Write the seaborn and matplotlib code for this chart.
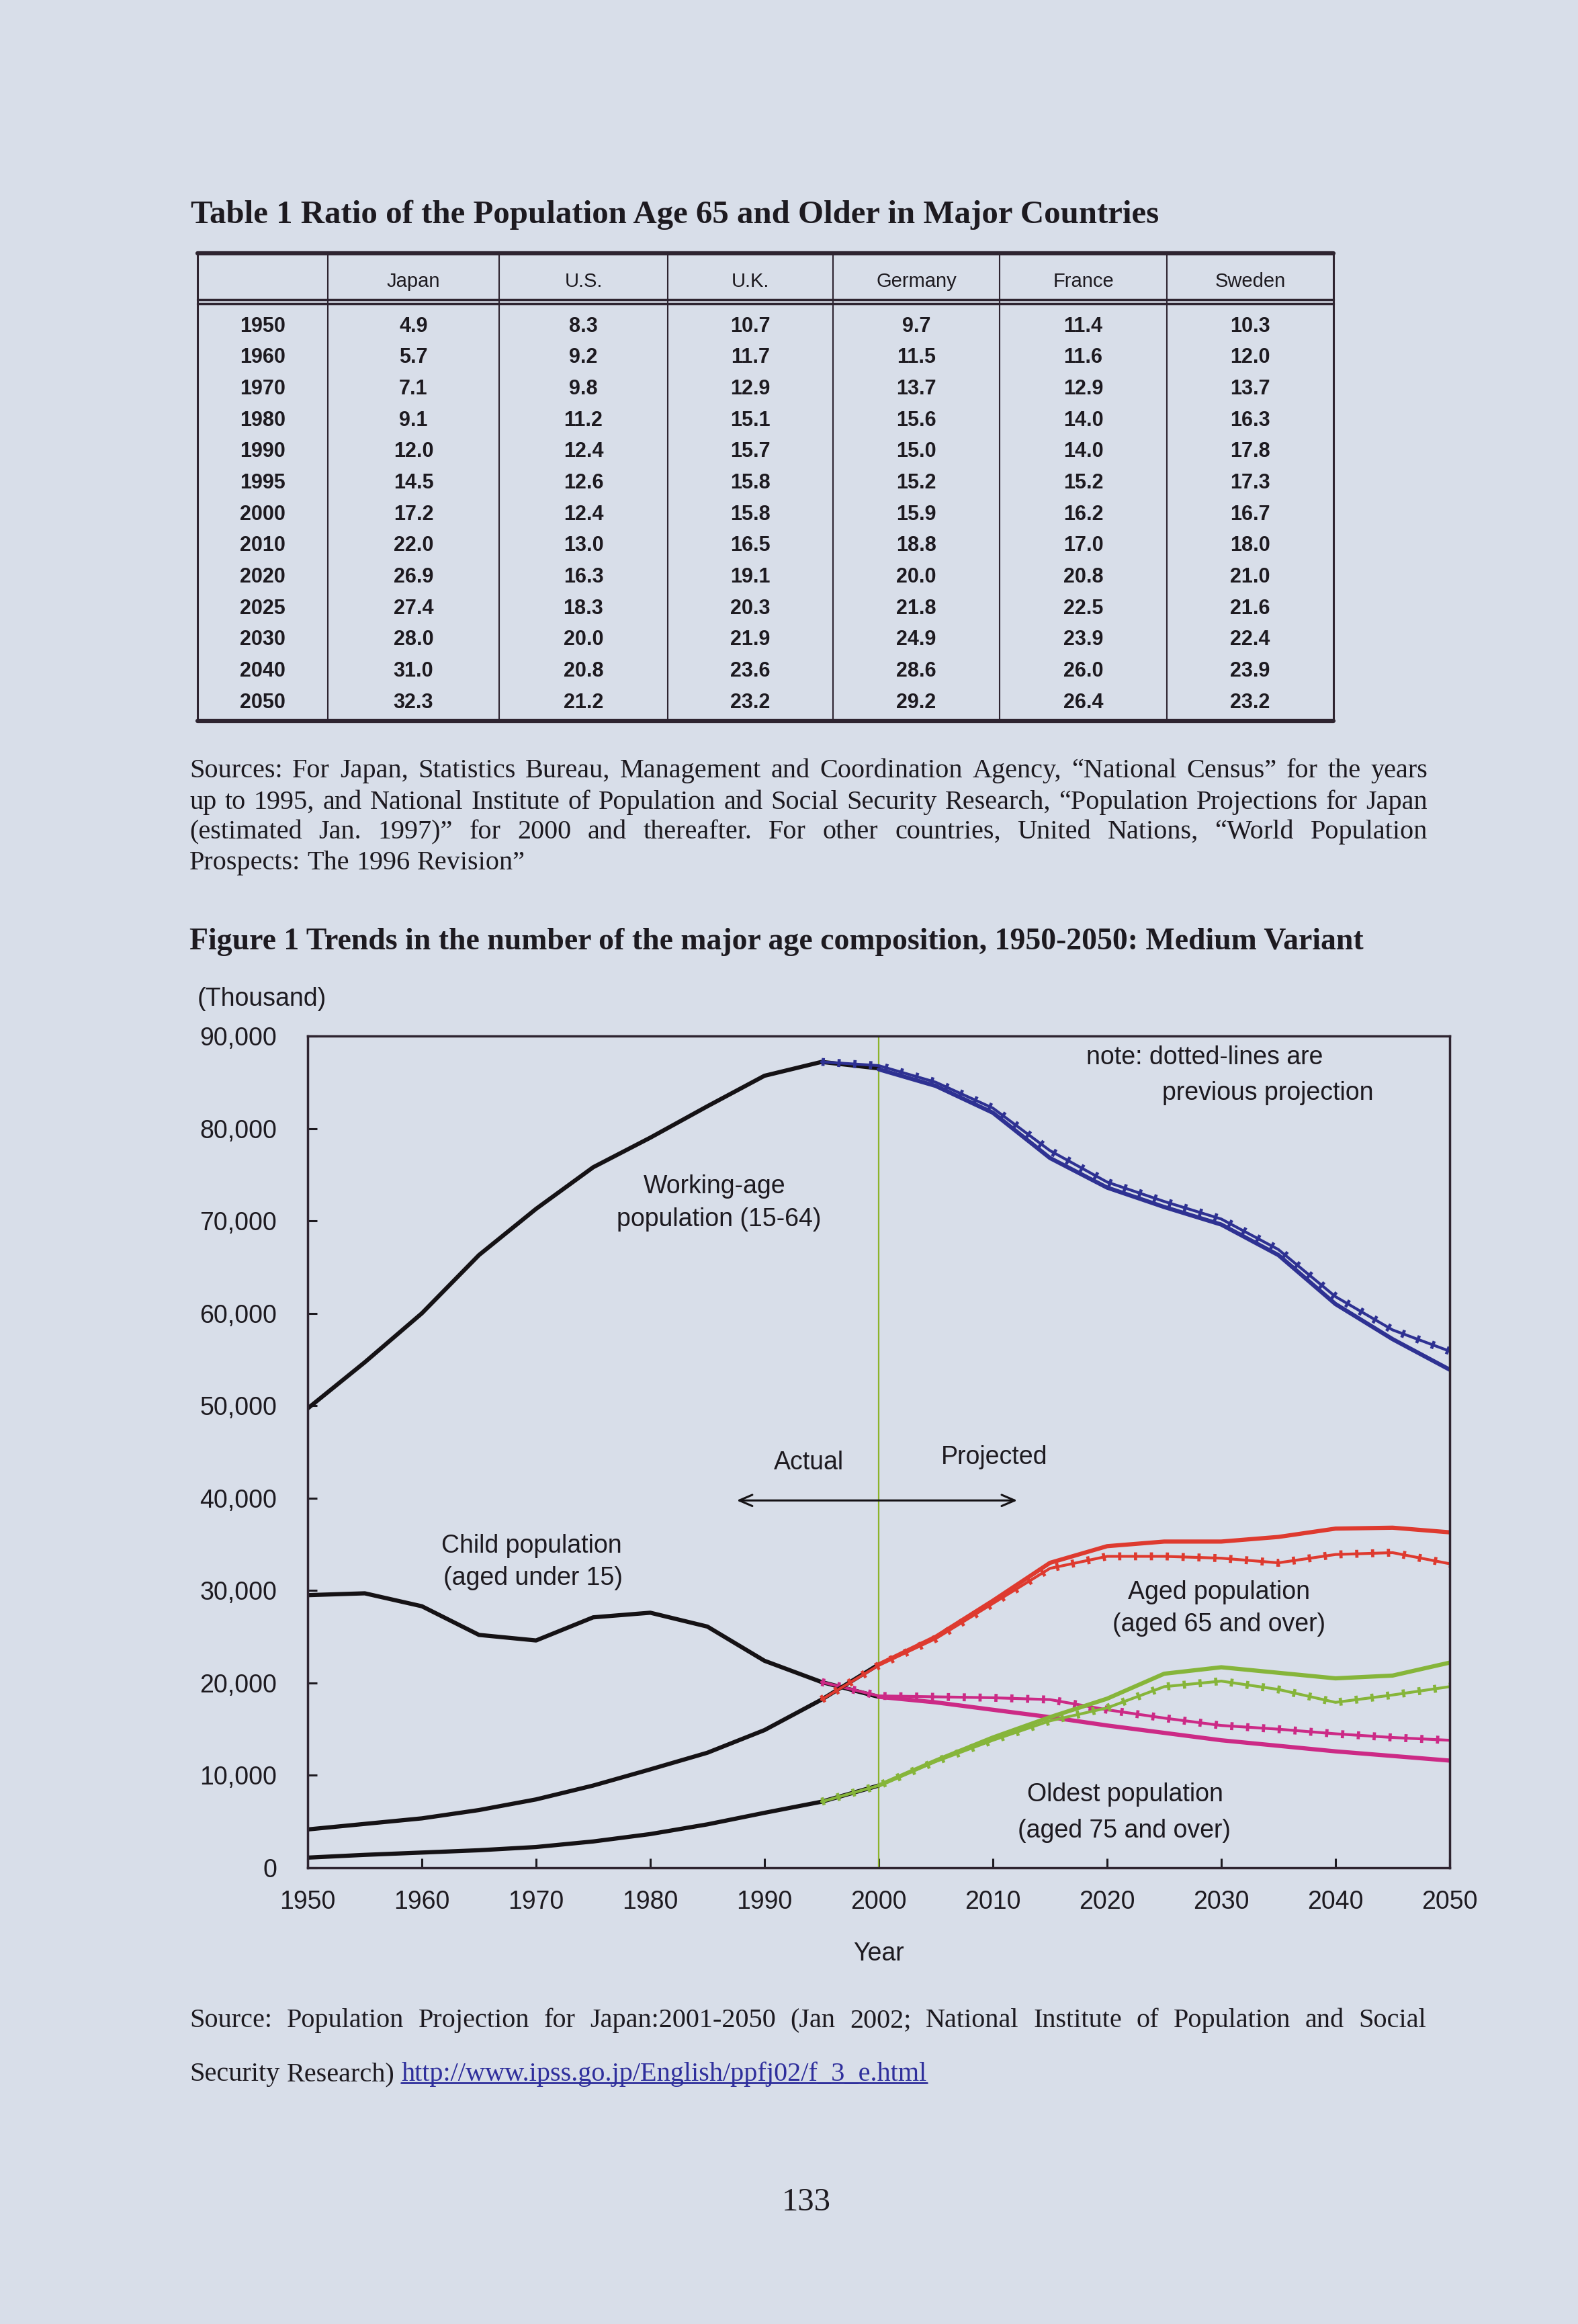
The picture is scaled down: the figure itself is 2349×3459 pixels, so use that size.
import matplotlib
matplotlib.use('Agg')
import matplotlib.pyplot as plt
from matplotlib.lines import Line2D
import seaborn as sns

# --- Table 1 : ratio of population aged 65+ (%) ---
table_cols = ['Japan', 'U.S.', 'U.K.', 'Germany', 'France', 'Sweden']
table_years = ['1950', '1960', '1970', '1980', '1990', '1995', '2000',
               '2010', '2020', '2025', '2030', '2040', '2050']
japan = [4.9, 5.7, 7.1, 9.1, 12.0, 14.5, 17.2, 22.0, 26.9, 27.4, 28.0, 31.0, 32.3]
us = [8.3, 9.2, 9.8, 11.2, 12.4, 12.6, 12.4, 13.0, 16.3, 18.3, 20.0, 20.8, 21.2]
uk = [10.7, 11.7, 12.9, 15.1, 15.7, 15.8, 15.8, 16.5, 19.1, 20.3, 21.9, 23.6, 23.2]
germany = [9.7, 11.5, 13.7, 15.6, 15.0, 15.2, 15.9, 18.8, 20.0, 21.8, 24.9, 28.6, 29.2]
france = [11.4, 11.6, 12.9, 14.0, 14.0, 15.2, 16.2, 17.0, 20.8, 22.5, 23.9, 26.0, 26.4]
sweden = [10.3, 12.0, 13.7, 16.3, 17.8, 17.3, 16.7, 18.0, 21.0, 21.6, 22.4, 23.9, 23.2]

# --- Figure 1 : population by age group (thousand) ---
years_actual = [1950, 1955, 1960, 1965, 1970, 1975, 1980, 1985, 1990, 1995, 2000]
work_actual = [49700, 54700, 60000, 66300, 71300, 75800, 79000, 82400, 85700, 87200, 86500]
child_actual = [29500, 29700, 28300, 25200, 24600, 27100, 27600, 26100, 22400, 20100, 18500]
aged_actual = [4150, 4750, 5350, 6250, 7400, 8900, 10650, 12450, 14900, 18200, 22000]
oldest_actual = [1100, 1400, 1650, 1900, 2250, 2850, 3650, 4700, 5950, 7150, 8900]

years_new = [2000, 2005, 2010, 2015, 2020, 2025, 2030, 2035, 2040, 2045, 2050]
work_new = [86400, 84600, 81700, 76800, 73600, 71500, 69600, 66300, 61000, 57200, 53900]
child_new = [18500, 17900, 17100, 16300, 15400, 14600, 13800, 13200, 12600, 12100, 11600]
aged_new = [22000, 25000, 28900, 33000, 34800, 35300, 35300, 35800, 36700, 36800, 36300]
oldest_new = [8900, 11600, 14100, 16300, 18300, 21000, 21700, 21100, 20500, 20800, 22200]

years_prev = [1995, 2000, 2005, 2010, 2015, 2020, 2025, 2030, 2035, 2040, 2045, 2050]
work_prev = [87200, 86800, 85000, 82200, 77600, 74200, 72100, 70200, 66900, 61800, 58200, 55900]
child_prev = [20100, 18600, 18500, 18400, 18200, 17100, 16200, 15400, 15000, 14500, 14100, 13800]
aged_prev = [18200, 21900, 24800, 28600, 32400, 33700, 33700, 33500, 33000, 33900, 34100, 32900]
oldest_prev = [7150, 8900, 11500, 13800, 15900, 17300, 19600, 20200, 19300, 17900, 18700, 19600]

W, H = 2349, 3459
BG = '#d8dee9'
TXT = '#1d1a20'
LINE = '#2e2430'
C_BLACK = '#151215'
C_BLUE = '#2e3192'
C_RED = '#de3a2f'
C_MAG = '#cc2a86'
C_GREEN = '#86b53a'
SERIF = ['Liberation Serif', 'DejaVu Serif']
SANS = ['Liberation Sans', 'DejaVu Sans']

sns.set_style('ticks')
plt.rcParams['font.family'] = SANS

fig = plt.figure(figsize=(W / 100, H / 100), dpi=100, facecolor=BG)
renderer = fig.canvas.get_renderer()


def fx(x):
    return x / W


def fy(y):
    return 1 - y / H


def text_w(s, size, family, weight='normal'):
    t = fig.text(0, 0, s, fontsize=size, family=family, weight=weight)
    w = t.get_window_extent(renderer).width
    t.remove()
    return w


def fit_size(s, width, family, weight='normal'):
    return 30 * width / text_w(s, 30, family, weight)


def hline(x0, x1, y, lw, color=LINE):
    fig.add_artist(Line2D([fx(x0), fx(x1)], [fy(y), fy(y)], transform=fig.transFigure,
                          color=color, lw=lw))


def vline(x, y0, y1, lw, color=LINE):
    fig.add_artist(Line2D([fx(x), fx(x)], [fy(y0), fy(y1)], transform=fig.transFigure,
                          color=color, lw=lw))


def justify(line, y, x0, x1, size, stretch=True, color=TXT):
    words = line.split(' ')
    ws = [text_w(w, size, SERIF) for w in words]
    if stretch and len(words) > 1:
        gap = (x1 - x0 - sum(ws)) / (len(words) - 1)
    else:
        gap = text_w('a b', size, SERIF) - text_w('ab', size, SERIF)
    x = x0
    for w, wd in zip(words, ws):
        fig.text(fx(x), fy(y), w, fontsize=size, family=SERIF, color=color,
                 ha='left', va='center_baseline')
        x += wd + gap
    return x - gap


#%% Table title and table
t1 = 'Table 1 Ratio of the Population Age 65 and Older in Major Countries'
fig.text(fx(284), fy(315), t1, fontsize=fit_size(t1, 1440, SERIF, 'bold'), family=SERIF,
         weight='bold', color=TXT, ha='left', va='center_baseline')

col_x = [294, 488, 743, 994, 1240, 1488, 1737, 1985]
tab_top, tab_head, tab_bot = 377, 449, 1073
hline(col_x[0], col_x[-1], tab_top, 4.5)
hline(col_x[0], col_x[-1], tab_head - 3, 2.5)
hline(col_x[0], col_x[-1], tab_head + 3, 2.5)
hline(col_x[0], col_x[-1], tab_bot, 4.5)
for i, x in enumerate(col_x):
    vline(x, tab_top, tab_bot, 2.2 if i in (0, len(col_x) - 1) else 1.5)

for j, name in enumerate(table_cols):
    cx = (col_x[j + 1] + col_x[j + 2]) / 2
    fig.text(fx(cx), fy(416), name, fontsize=21, family=SANS, color=TXT,
             ha='center', va='center_baseline')

columns = [japan, us, uk, germany, france, sweden]
for i, yr in enumerate(table_years):
    ry = 482 + i * 46.7
    fig.text(fx((col_x[0] + col_x[1]) / 2), fy(ry), yr, fontsize=22, family=SANS,
             weight='bold', color=TXT, ha='center', va='center_baseline')
    for j, col in enumerate(columns):
        cx = (col_x[j + 1] + col_x[j + 2]) / 2
        fig.text(fx(cx), fy(ry), f'{col[i]:.1f}', fontsize=22, family=SANS,
                 weight='bold', color=TXT, ha='center', va='center_baseline')

#%% Sources paragraph
src_lines = [
    'Sources: For Japan, Statistics Bureau, Management and Coordination Agency, \u201cNational Census\u201d for the years',
    'up to 1995, and National Institute of Population and Social Security Research, \u201cPopulation Projections for Japan',
    '(estimated Jan. 1997)\u201d for 2000 and thereafter. For other countries, United Nations, \u201cWorld Population',
    'Prospects: The 1996 Revision\u201d',
]
body_x0, body_x1 = 282, 2125
body_size = min(fit_size(s, (body_x1 - body_x0) * 0.985, SERIF) for s in src_lines[:3])
for k, (s, y) in enumerate(zip(src_lines, [1143, 1190, 1234, 1280])):
    justify(s, y, body_x0, body_x1, body_size, stretch=(k < 3))

t2 = 'Figure 1 Trends in the number of the major age composition, 1950-2050: Medium Variant'
fig.text(fx(282), fy(1397), t2, fontsize=fit_size(t2, 1746, SERIF, 'bold'), family=SERIF,
         weight='bold', color=TXT, ha='left', va='center_baseline')

fig.text(fx(294), fy(1487), '(Thousand)', fontsize=27, family=SANS, color=TXT,
         ha='left', va='center')

#%% Chart
ax = fig.add_axes([fx(458), fy(2780), (2158 - 458) / W, (2780 - 1542) / H])
ax.set_facecolor('none')

series = [
    (work_actual, work_new, work_prev, C_BLUE),
    (child_actual, child_new, child_prev, C_MAG),
    (aged_actual, aged_new, aged_prev, C_RED),
    (oldest_actual, oldest_new, oldest_prev, C_GREEN),
]
for act, new, prev, col in series:
    sns.lineplot(x=years_actual, y=act, ax=ax, color=C_BLACK, lw=4.5)
    sns.lineplot(x=years_prev, y=prev, ax=ax, color=col, lw=3)
    sns.lineplot(x=years_prev, y=prev, ax=ax, color=col, lw=8.5,
                 linestyle=(0, (0.4, 1.6)))
    sns.lineplot(x=years_new, y=new, ax=ax, color=col, lw=4.5)

ax.axvline(2000, color='#8db32a', lw=1.6, zorder=1)

ax.set_xlim(1950, 2050)
ax.set_ylim(0, 90000)
ax.set_xticks(range(1950, 2051, 10))
yt = list(range(0, 90001, 10000))
ax.set_yticks(yt)
ax.set_yticklabels([f'{v:,}' for v in yt])
ax.tick_params(axis='both', direction='in', length=10, width=2.2, colors=TXT,
               labelsize=27)
ax.tick_params(axis='y', pad=33)
ax.tick_params(axis='x', pad=24)
for sp in ax.spines.values():
    sp.set_visible(True)
    sp.set_color(LINE)
    sp.set_linewidth(2.5)
ax.set_xlabel('Year', fontsize=27, color=TXT)
ax.xaxis.set_label_coords(0.5, -0.089)
ax.set_ylabel('')

ann = dict(fontsize=27, color=TXT, va='center')
ax.text(2018.2, 87670, 'note: dotted-lines are', ha='left', **ann)
ax.text(2024.8, 83820, 'previous projection', ha='left', **ann)
ax.text(1985.6, 73710, 'Working-age', ha='center', **ann)
ax.text(1986.0, 70150, 'population (15-64)', ha='center', **ann)
ax.text(1993.9, 43840, 'Actual', ha='center', **ann)
ax.text(2010.1, 44420, 'Projected', ha='center', **ann)
ax.text(1961.7, 34820, 'Child population', ha='left', **ann)
ax.text(1961.9, 31330, '(aged under 15)', ha='left', **ann)
ax.text(2029.8, 29800, 'Aged population', ha='center', **ann)
ax.text(2029.8, 26320, '(aged 65 and over)', ha='center', **ann)
ax.text(2021.6, 7920, 'Oldest population', ha='center', **ann)
ax.text(2021.5, 4000, '(aged 75 and over)', ha='center', **ann)
ax.annotate('', xy=(1987.4, 39750), xytext=(2012.3, 39750),
            arrowprops=dict(arrowstyle='<->,head_length=1.4,head_width=0.6',
                            color=C_BLACK, lw=2.2))

#%% Bottom source and page number
src2 = 'Source: Population Projection for Japan:2001-2050 (Jan 2002; National Institute of Population and Social'
justify(src2, 3003, 282, 2123, body_size)
end = justify('Security Research)', 3083, 282, 2123, body_size, stretch=False)
link = 'http://www.ipss.go.jp/English/ppfj02/f_3_e.html'
lx = end + text_w('a b', body_size, SERIF) - text_w('ab', body_size, SERIF)
fig.text(fx(lx), fy(3083), link, fontsize=body_size, family=SERIF, color='#2f2f9c',
         ha='left', va='center_baseline')
hline(lx, lx + text_w(link, body_size, SERIF), 3100, 2, color='#2f2f9c')

fig.text(fx(1200), fy(3273), '133', fontsize=35, family=SERIF, color=TXT,
         ha='center', va='center_baseline')

fig.savefig('out.png', dpi=100, facecolor=BG)
